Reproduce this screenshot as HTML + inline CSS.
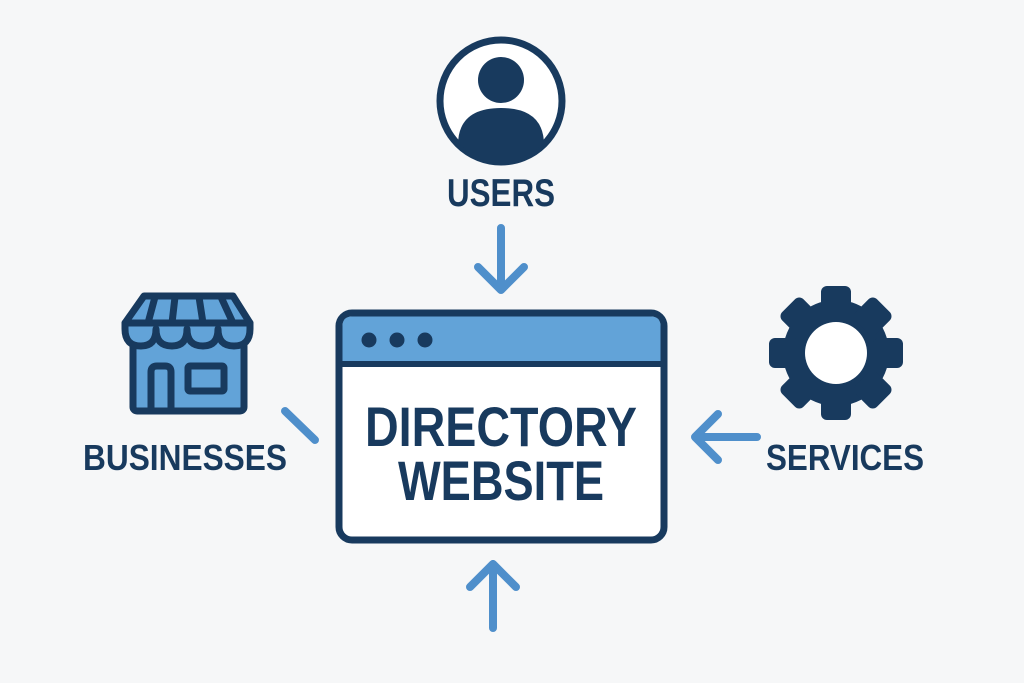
<!DOCTYPE html>
<html><head><meta charset="utf-8"><style>
html,body{margin:0;padding:0;background:#f6f7f8;}
svg{display:block}
text{font-family:"Liberation Sans",sans-serif;font-weight:bold;fill:#183a5e}
</style></head><body>
<svg width="1024" height="683" viewBox="0 0 1024 683" xmlns="http://www.w3.org/2000/svg">
<rect width="1024" height="683" fill="#f6f7f8"/>
<defs><clipPath id="cc"><circle cx="501" cy="101" r="60"/></clipPath></defs>
<circle cx="501" cy="101" r="61" fill="#fff" stroke="#183a5e" stroke-width="7"/>
<circle cx="501" cy="80" r="23" fill="#183a5e"/>
<g clip-path="url(#cc)"><path d="M458 170 L458 145 Q458 108 501 108 Q544 108 544 145 L544 170 Z" fill="#183a5e"/></g>
<text x="501" y="206" font-size="39" text-anchor="middle" textLength="108" lengthAdjust="spacingAndGlyphs">USERS</text>
<g stroke="#4f8fcb" stroke-width="8" stroke-linecap="round" stroke-linejoin="round" fill="none">
<path d="M501 228 V290 M478 267 L501 290 L524 267"/>
<path d="M493 628 V564 M470 587 L493 564 L516 587"/>
<path d="M757 437 H695 M718 414 L695 437 L718 460"/>
<path d="M285 411 L315 440"/>
</g>
<rect x="339" y="313" width="325" height="227" rx="13" fill="#fff" stroke="#183a5e" stroke-width="7"/>
<path d="M342.5 363 V326 Q342.5 316.5 352 316.5 H651 Q660.5 316.5 660.5 326 V363 Z" fill="#62a3d8"/>
<line x1="339" y1="364" x2="664" y2="364" stroke="#183a5e" stroke-width="6"/>
<circle cx="369" cy="340" r="7.5" fill="#183a5e"/>
<circle cx="397" cy="340" r="7.5" fill="#183a5e"/>
<circle cx="425" cy="340" r="7.5" fill="#183a5e"/>
<text x="501" y="446" font-size="56" text-anchor="middle" textLength="272" lengthAdjust="spacingAndGlyphs">DIRECTORY</text>
<text x="501" y="500" font-size="56" text-anchor="middle" textLength="206" lengthAdjust="spacingAndGlyphs">WEBSITE</text>
<g stroke="#183a5e" stroke-width="7" stroke-linejoin="round" fill="#62a3d8">
<rect x="133" y="325" width="111" height="86" rx="4"/>
<path d="M144 296 H233 L250 323 H125 Z"/>
<path d="M125 323 H250 V329 Q250 346 234 346 Q218 346 218 329 Q218 346 203 346 Q187 346 187 329 Q187 346 172 346 Q156 346 156 329 Q156 346 141 346 Q125 346 125 329 Z"/>
<path d="M155 297 L148 323 M175 297 L172 323 M199 297 L203 323 M221 297 L233 323" fill="none"/>
<path d="M151 409 V372 Q151 366 157 366 H165 Q171 366 171 372 V409" fill="none"/>
<rect x="188" y="366" width="36" height="25" rx="2"/>
</g>
<text x="185" y="470" font-size="36" text-anchor="middle" textLength="204" lengthAdjust="spacingAndGlyphs">BUSINESSES</text>
<g fill="#183a5e" transform="translate(836,353)">
<circle r="53"/>
<g id="t"><rect x="-15" y="-67" width="30" height="30" rx="6"/></g>
<use href="#t" transform="rotate(45)"/><use href="#t" transform="rotate(90)"/><use href="#t" transform="rotate(135)"/>
<use href="#t" transform="rotate(180)"/><use href="#t" transform="rotate(225)"/><use href="#t" transform="rotate(270)"/><use href="#t" transform="rotate(315)"/>
<circle r="31" fill="#fff"/>
</g>
<text x="845" y="470" font-size="36" text-anchor="middle" textLength="158" lengthAdjust="spacingAndGlyphs">SERVICES</text>
</svg>
</body></html>
